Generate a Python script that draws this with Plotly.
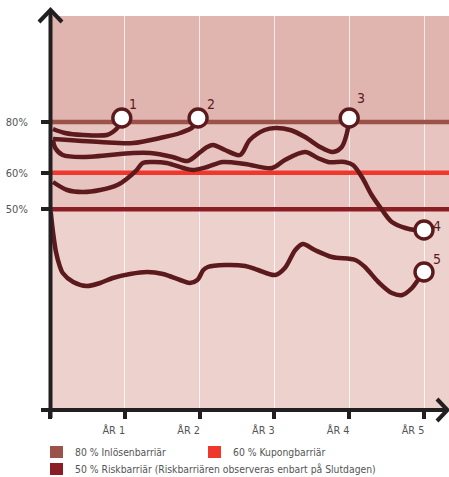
import plotly.graph_objects as go

# ---------------- data (schematic chart units: years on x, drawing level on y) -------------
years_ticks = [0, 1, 2, 3, 4, 5]
year_labels = ["", "ÅR 1", "ÅR 2", "ÅR 3", "ÅR 4", "ÅR 5"]

barrier_names = ["80 % Inlösenbarriär", "60 % Kupongbarriär",
                 "50 % Riskbarriär (Riskbarriären observeras enbart på Slutdagen)"]
barrier_tick_labels = ["80%", "60%", "50%"]
barrier_levels = [288, 237.3, 200.7]
barrier_colors = ["#9b5249", "#f0372e", "#8b1e25"]

c1_x = [0.04, 0.20, 0.44, 0.76, 0.84, 0.91, 0.96]
c1_y = [281, 277, 275, 275, 278, 283, 292]

c2_x = [0.04, 0.67, 1.11, 1.47, 1.74, 1.91, 1.98]
c2_y = [271, 268, 267, 272, 277, 283, 292]

c3_x = [0.04, 0.07, 0.17, 0.44, 1.11, 1.34, 1.64, 1.84, 2.01, 2.10, 2.18, 2.34,
        2.54, 2.67, 2.87, 3.01, 3.21, 3.41, 3.61, 3.78, 3.90, 3.97, 4.00]
c3_y = [270, 262, 255, 253, 257, 257, 253, 249, 258, 263, 265, 260,
        255, 270, 280, 282, 280, 273, 263, 258, 263, 277, 292]

c4_x = [0.04, 0.23, 0.44, 0.67, 0.90, 1.04, 1.16, 1.24, 1.38, 1.56, 1.78, 1.91,
        2.10, 2.31, 2.61, 2.97, 3.14, 3.41, 3.58, 3.72, 3.94, 4.05, 4.17, 4.30,
        4.44, 4.57, 4.75, 4.88, 5.00]
c4_y = [228, 220, 218, 220, 225, 232, 240, 247, 248, 247, 242, 240,
        243, 248, 246, 242, 250, 258, 252, 248, 248, 245, 233, 215,
        200, 188, 182, 180, 180]

c5_x = [0.01, 0.04, 0.08, 0.13, 0.17, 0.31, 0.49, 0.67, 0.84, 1.07, 1.30, 1.51,
        1.74, 1.87, 1.97, 2.05, 2.11, 2.34, 2.61, 2.78, 3.01, 3.14, 3.28, 3.38,
        3.54, 3.77, 4.08, 4.21, 4.39, 4.57, 4.71, 4.84, 4.92, 5.00]
c5_y = [198, 178, 158, 144, 137, 128, 124, 127, 132, 136, 138, 136,
        130, 127, 130, 140, 143, 145, 144, 140, 135, 142, 160, 166,
        160, 153, 150, 143, 128, 117, 115, 122, 130, 138]

curve_labels = ["1", "2", "3", "4", "5"]
label_shift = [(11, 14), (13, 14), (12, 20), (13, 4), (13, 13)]

band_edges = [0, 200.7, 288, 394]
band_colors = ["#ecd1cd", "#e7c4c0", "#e0b5af"]

# ---------------- layout geometry ----------------
W, H = 449, 477
ML, MR, MT, MB = 50, 0, 16, 67
PW, PH = W - ML - MR, H - MT - MB
X_MAX = PW / 74.8
Y_MAX = 394

def px(xp):
    return (xp - ML) / PW

def py(yp):
    return (H - MB - yp) / PH

INK = "#5c1a1d"
AXIS = "#231f20"
GREY = "#545456"
FONT = "Liberation Sans Narrow, DejaVu Sans Condensed, Roboto Condensed, Liberation Sans, sans-serif"

fig = go.Figure()

# barrier lines
for lvl, col, nm in zip(barrier_levels, barrier_colors, barrier_names):
    fig.add_trace(go.Scatter(x=[0, X_MAX], y=[lvl, lvl], mode="lines",
                             line=dict(color=col, width=4.6), name=nm,
                             showlegend=False, hoverinfo="skip"))

curves = [(c1_x, c1_y), (c2_x, c2_y), (c3_x, c3_y), (c4_x, c4_y), (c5_x, c5_y)]
for cx, cy in curves:
    fig.add_trace(go.Scatter(x=cx, y=cy, mode="lines",
                             line=dict(color=INK, width=4.5, shape="spline", smoothing=0.9),
                             showlegend=False, hoverinfo="skip"))

end_x = [c[0][-1] for c in curves]
end_y = [c[1][-1] for c in curves]
fig.add_trace(go.Scatter(x=end_x, y=end_y, mode="markers", cliponaxis=False,
                         marker=dict(size=18, color="white", line=dict(color=INK, width=3.4)),
                         showlegend=False, hoverinfo="skip"))

annotations = []
for ex, ey, lab, (dx, dy) in zip(end_x, end_y, curve_labels, label_shift):
    annotations.append(dict(x=ex, y=ey, text=lab, showarrow=False, xshift=dx, yshift=dy,
                            font=dict(family=FONT, size=14, color=INK)))

shapes = []
for i, col in enumerate(band_colors):
    shapes.append(dict(type="rect", xref="x domain", yref="y", x0=0, x1=1,
                       y0=band_edges[i], y1=band_edges[i + 1], fillcolor=col,
                       line=dict(width=0), layer="below"))

# axes drawn as lines with arrowheads
shapes.append(dict(type="line", xref="paper", yref="paper", x0=px(41), x1=px(446),
                   y0=py(410), y1=py(410), line=dict(color=AXIS, width=4)))
shapes.append(dict(type="line", xref="paper", yref="paper", x0=px(50.5), x1=px(50.5),
                   y0=py(418), y1=py(11), line=dict(color=AXIS, width=4)))
shapes.append(dict(type="path", xref="paper", yref="paper",
                   path=f"M {px(39)},{py(22)} L {px(50.5)},{py(10)} L {px(62)},{py(22)}",
                   line=dict(color=AXIS, width=4)))
shapes.append(dict(type="path", xref="paper", yref="paper",
                   path=f"M {px(437)},{py(399)} L {px(447.5)},{py(410)} L {px(437)},{py(421)}",
                   line=dict(color=AXIS, width=4)))

# legend (squares + text)
leg_pos = [(50, 446), (208, 446), (50, 463)]
for (lx, ly), col, nm in zip(leg_pos, barrier_colors, barrier_names):
    shapes.append(dict(type="rect", xref="paper", yref="paper", x0=px(lx), x1=px(lx + 13),
                       y0=py(ly), y1=py(ly + 12), fillcolor=col, line=dict(width=0)))
    annotations.append(dict(xref="paper", yref="paper", x=px(lx + 23), y=py(ly + 6),
                            xanchor="left", yanchor="middle", text=nm, showarrow=False,
                            font=dict(family=FONT, size=10.3, color=GREY)))

fig.update_layout(
    width=W, height=H,
    margin=dict(l=ML, r=MR, t=MT, b=MB, pad=0),
    paper_bgcolor="white", plot_bgcolor=band_colors[0],
    shapes=shapes, annotations=annotations, showlegend=False,
    xaxis=dict(range=[0, X_MAX], tickvals=years_ticks, ticktext=year_labels,
               ticks="outside", ticklen=8, tickwidth=4, tickcolor=AXIS,
               showgrid=True, gridcolor="rgba(255,255,255,0.75)", gridwidth=1.3,
               zeroline=False, showline=False, ticklabelshift=-11, ticklabelstandoff=2,
               tickfont=dict(family=FONT, size=10.8, color=GREY), fixedrange=True),
    yaxis=dict(range=[0, Y_MAX], tickvals=barrier_levels, ticktext=barrier_tick_labels,
               ticks="outside", ticklen=8, tickwidth=4, tickcolor=AXIS,
               showgrid=False, zeroline=False, showline=False, ticklabelstandoff=11,
               tickfont=dict(family=FONT, size=11, color=GREY), fixedrange=True),
)

fig.write_html("out.html", config={"displayModeBar": False},
               post_script="document.body.style.margin='0';document.body.style.overflow='hidden';")
